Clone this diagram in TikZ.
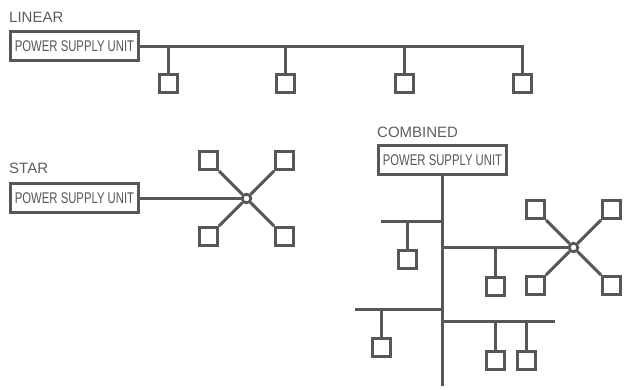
\documentclass[tikz,border=0pt]{standalone}
\usepackage{fontspec}
\setmainfont{Liberation Sans}
\usetikzlibrary{positioning}
\definecolor{ln}{HTML}{575757}
\definecolor{lbl}{HTML}{5E5E5E}
\tikzset{
  wire/.style={draw=ln, line width=3pt},
  psu/.style={draw=ln, line width=3pt, fill=white, minimum width=128pt, minimum height=29pt, inner sep=0pt, text=ln, font=\fontsize{15.5}{15.5}\selectfont},
  dev/.style={draw=ln, line width=3pt, fill=white, minimum size=18pt, inner sep=0pt},
  hub/.style={circle, draw=ln, line width=2.6pt, fill=white, minimum size=8.5pt, inner sep=0pt},
  ttl/.style={text=lbl, anchor=base west, inner sep=0pt, font=\fontsize{15}{15}\selectfont}
}
\newcommand{\psutext}{\scalebox{0.73}[1]{POWER SUPPLY UNIT}}
\begin{document}
\begin{tikzpicture}[x=1pt,y=-1pt]
\useasboundingbox (0,0) rectangle (624,389);
% ---------- LINEAR ----------
\node[ttl] (tlin) at (9,22) {LINEAR};
\node[psu] (psu1) at (74.5,46) {\psutext};
\foreach \i/\x in {1/168.5,2/285.5,3/404.5,4/522.5}{
  \node[dev] (ld\i) at (\x,83.5) {};
  \coordinate (lb\i) at (\x,46.5);
}
\draw[wire] (psu1.east |- lb4) -- (lb4) -- (ld4.north);
\foreach \i in {1,2,3}{ \draw[wire] (lb\i) -- (ld\i.north); }
% ---------- STAR ----------
\node[ttl] (tstar) at (9,173) {STAR};
\node[psu] (psu2) at (74.5,198) {\psutext};
\node[hub] (hub2) at (246.5,198.5) {};
\node[dev] (s2a) at (208.5,160.5) {};
\node[dev] (s2b) at (284.5,160.5) {};
\node[dev] (s2c) at (208.5,236.5) {};
\node[dev] (s2d) at (284.5,236.5) {};
\draw[wire] (psu2.east |- hub2) -- (hub2.west);
\foreach \s in {s2a,s2b,s2c,s2d}{ \draw[wire] (hub2) -- (\s); }
\node[hub] at (hub2) {};
% ---------- COMBINED ----------
\node[ttl] (tcomb) at (377,137) {COMBINED};
\node[psu] (psu3) at (442.5,160) {\psutext};
\coordinate (trunkend) at (442.5,386);
\draw[wire] (psu3.south) -- (trunkend);
% branch A (upper left)
\coordinate (aL) at (380.5,221.5);
\coordinate (aT) at (442.5,221.5);
\coordinate (aD) at (407.5,221.5);
\node[dev] (ca) at (407.5,259.5) {};
\draw[wire] (aL) -- (aT);
\draw[wire] (aD) -- (ca.north);
% branch B (to star)
\node[hub] (hub3) at (573.5,247.5) {};
\coordinate (bT) at (442.5,247.5);
\coordinate (bD) at (495.5,247.5);
\node[dev] (cb) at (495.5,286.5) {};
\node[dev] (c3a) at (535.5,209.5) {};
\node[dev] (c3b) at (611.5,209.5) {};
\node[dev] (c3c) at (535.5,285.5) {};
\node[dev] (c3d) at (611.5,285.5) {};
\draw[wire] (bT) -- (hub3.west);
\draw[wire] (bD) -- (cb.north);
\foreach \s in {c3a,c3b,c3c,c3d}{ \draw[wire] (hub3) -- (\s); }
\node[hub] at (hub3) {};
% branch C (lower left)
\coordinate (cL) at (354.5,309.5);
\coordinate (cT) at (442.5,309.5);
\coordinate (cD) at (381.5,309.5);
\node[dev] (cc) at (381.5,347.5) {};
\draw[wire] (cL) -- (cT);
\draw[wire] (cD) -- (cc.north);
% branch D (lower right)
\coordinate (dT) at (442.5,321.5);
\coordinate (dR) at (554.5,321.5);
\coordinate (dD1) at (495.5,321.5);
\coordinate (dD2) at (526.5,321.5);
\node[dev] (cd1) at (495.5,360.5) {};
\node[dev] (cd2) at (526.5,360.5) {};
\draw[wire] (dT) -- (dR);
\draw[wire] (dD1) -- (cd1.north);
\draw[wire] (dD2) -- (cd2.north);
\end{tikzpicture}
\end{document}
